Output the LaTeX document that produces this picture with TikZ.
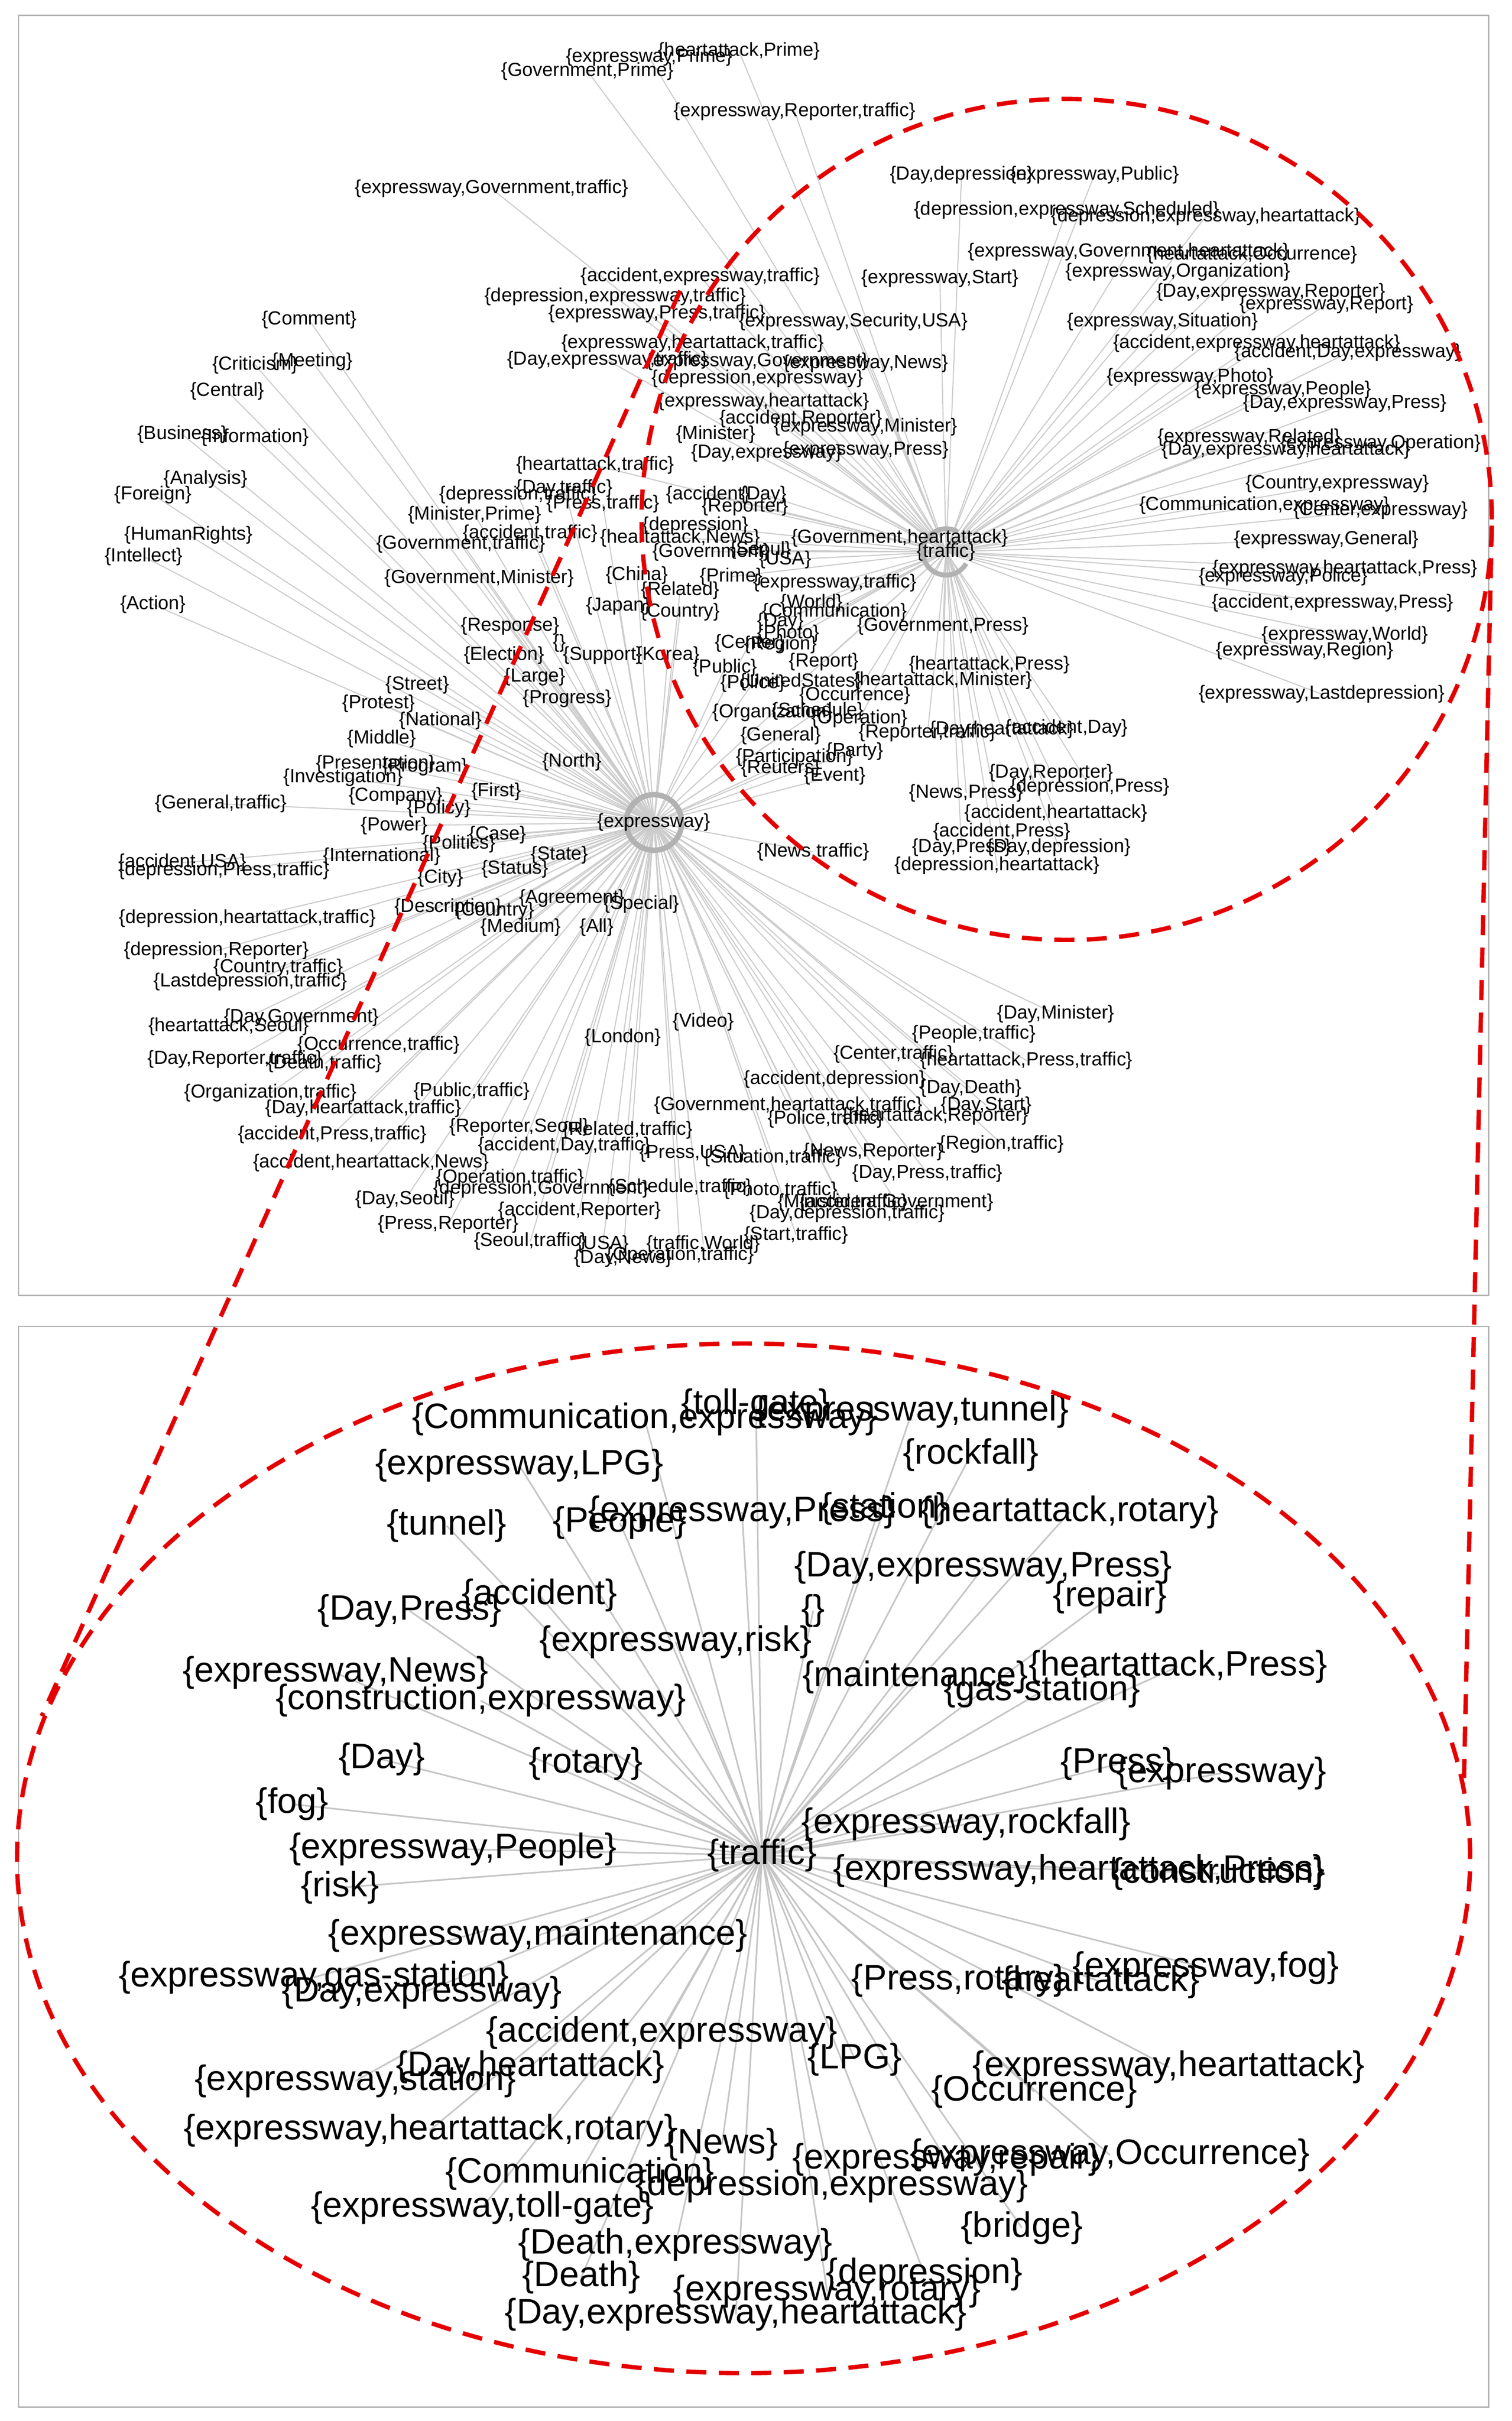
\documentclass[tikz,border=0pt]{standalone}
\usepackage{fontspec}
\setmainfont{Liberation Sans}
\begin{document}
\begin{tikzpicture}[x=0.1cm,y=-0.1cm,
  toplbl/.style={inner sep=0pt,font=\fontsize{35}{37}\selectfont},
  botlbl/.style={inner sep=0pt,font=\fontsize{65}{68}\selectfont},
  edgeline/.style={draw=gray!40,line width=2pt},
  bedge/.style={draw=gray!45,line width=3pt},
  panel/.style={draw=gray!60,line width=2.5pt},
  reddash/.style={draw=red!90!black,line width=8pt,dash pattern=on 1.3cm off 0.8cm}]
\useasboundingbox (0,0) rectangle (978,1566);
\draw[panel] (12,10) rectangle (963,838);
\draw[panel] (12,858) rectangle (963,1557);
\def\toplist{
380/46/{Government,Prime},478/33/{heartattack,Prime},420/37/{expressway,Prime},
514/72/{expressway,Reporter,traffic},318/122/{expressway,Government,traffic},
453/179/{accident,expressway,traffic},398/192/{depression,expressway,traffic},
425/203/{expressway,Press,traffic},448/222/{expressway,heartattack,traffic},
393/233/{Day,expressway,traffic},490/234/{expressway,Government},560/235/{expressway,News},
490/245/{depression,expressway},494/260/{expressway,heartattack},518/271/{accident,Reporter},
560/276/{expressway,Minister},463/281/{Minister},496/293/{Day,expressway},560/291/{expressway,Press},
200/207/{Comment},165/236/{Criticism},202/234/{Meeting},147/253/{Central},118/281/{Business},
165/283/{Information},133/310/{Analysis},99/320/{Foreign},122/346/{HumanRights},93/360/{Intellect},
99/391/{Action},385/301/{heartattack,traffic},365/316/{Day,traffic},335/320/{depression,traffic},
390/326/{Press,traffic},307/333/{Minister,Prime},343/345/{accident,traffic},298/352/{Government,traffic},
310/374/{Government,Minister},458/320/{accident},482/328/{Reporter},494/320/{Day},450/340/{depression},
440/348/{heartattack,News},460/357/{Government},582/348/{Government,heartattack},492/356/{Seoul},
508/362/{USA},412/372/{China},473/373/{Prime},540/377/{expressway,traffic},440/382/{Related},
400/392/{Japan},440/396/{Country},525/390/{World},540/396/{Communication},330/405/{Response},
326/424/{Election},362/416/{},390/424/{Support},432/424/{Korea},510/410/{Photo},505/402/{Day},
610/405/{Government,Press},485/416/{Center},505/417/{Region},533/428/{Report},469/432/{Public},
518/441/{UnitedStates},640/430/{heartattack,Press},487/442/{Police},610/440/{heartattack,Minister},
346/438/{Large},553/450/{Occurrence},367/452/{Progress},270/443/{Street},245/455/{Protest},
285/466/{National},247/478/{Middle},500/461/{Organization},529/460/{Schedule},556/465/{Operation},
600/474/{Reporter,traffic},648/472/{Day,heartattack},690/471/{accident,Day},505/476/{General},
243/494/{Presentation},275/496/{Program},370/493/{North},222/503/{Investigation},514/490/{Participation},
553/486/{Party},505/497/{Reuters},540/502/{Event},256/515/{Company},321/512/{First},680/500/{Day,Reporter},
284/523/{Policy},625/513/{News,Press},705/509/{depression,Press},143/520/{General,traffic},255/534/{Power},
322/540/{Case},683/526/{accident,heartattack},297/546/{Politics},247/554/{International},362/553/{State},
648/538/{accident,Press},118/558/{accident,USA},145/563/{depression,Press,traffic},333/562/{Status},
285/568/{City},622/548/{Day,Press},685/548/{Day,depression},526/551/{News,traffic},
645/560/{depression,heartattack},370/581/{Agreement},415/585/{Special},290/587/{Description},
320/589/{Country},160/594/{depression,heartattack,traffic},337/600/{Medium},386/600/{All},
140/615/{depression,Reporter},180/626/{Country,traffic},162/635/{Lastdepression,traffic},
195/658/{Day,Government},148/664/{heartattack,Seoul},245/676/{Occurrence,traffic},
152/685/{Day,Reporter,traffic},210/688/{Death,traffic},403/671/{London},455/661/{Video},
683/656/{Day,Minister},630/669/{People,traffic},578/682/{Center,traffic},664/686/{heartattack,Press,traffic},
540/698/{accident,depression},628/704/{Day,Death},175/707/{Organization,traffic},305/706/{Public,traffic},
235/717/{Day,heartattack,traffic},510/715/{Government,heartattack,traffic},638/715/{Day,Start},
336/729/{Reporter,Seoul},406/731/{Related,traffic},534/724/{Police,traffic},605/722/{heartattack,Reporter},
215/734/{accident,Press,traffic},365/741/{accident,Day,traffic},240/752/{accident,heartattack,News},
448/746/{Press,USA},500/749/{Situation,traffic},565/745/{News,Reporter},648/740/{Region,traffic},
330/762/{Operation,traffic},600/759/{Day,Press,traffic},350/769/{depression,Government},
440/768/{Schedule,traffic},505/770/{Photo,traffic},545/778/{Minister,traffic},580/778/{accident,Government},
262/776/{Day,Seoul},375/783/{accident,Reporter},548/785/{Day,depression,traffic},290/792/{Press,Reporter},
343/803/{Seoul,traffic},390/805/{USA},455/805/{traffic,World},515/799/{Start,traffic},403/814/{Day,News},
440/812/{Operation,traffic},
622/113/{Day,depression},708/113/{expressway,Public},690/136/{depression,expressway,Scheduled},
780/140/{depression,expressway,heartattack},730/163/{expressway,Government,heartattack},
810/165/{heartattack,Occurrence},608/180/{expressway,Start},762/176/{expressway,Organization},
822/189/{Day,expressway,Reporter},858/197/{expressway,Report},552/208/{expressway,Security,USA},
752/208/{expressway,Situation},813/222/{accident,expressway,heartattack},872/228/{accident,Day,expressway},
770/244/{expressway,Photo},830/252/{expressway,People},870/261/{Day,expressway,Press},
808/283/{expressway,Related},832/291/{Day,expressway,heartattack},893/287/{expressway,Operation},
865/313/{Country,expressway},818/327/{Communication,expressway},893/330/{Center,expressway},
858/349/{expressway,General},870/368/{expressway,heartattack,Press},830/373/{expressway,Police},
862/390/{accident,expressway,Press},870/411/{expressway,World},844/421/{expressway,Region},
855/449/{expressway,Lastdepression}}
\def\botlist{
417/918/{Communication,expressway},489/909/{toll-gate},590/913/{expressway,tunnel},628/941/{rockfall},
336/948/{expressway,LPG},480/978/{expressway,Press},572/976/{station},692/978/{heartattack,rotary},
289/987/{tunnel},401/985/{People},636/1014/{Day,expressway,Press},349/1032/{accident},718/1033/{repair},
265/1042/{Day,Press},526/1042/{},437/1062/{expressway,risk},592/1085/{maintenance},762/1078/{heartattack,Press},
217/1082/{expressway,News},311/1100/{construction,expressway},674/1094/{gas-station},247/1138/{Day},
379/1141/{rotary},723/1141/{Press},790/1147/{expressway},189/1167/{fog},625/1180/{expressway,rockfall},
293/1196/{expressway,People},698/1210/{expressway,heartattack,Press},788/1212/{construction},220/1221/{risk},
348/1252/{expressway,maintenance},203/1279/{expressway,gas-station},273/1289/{Day,expressway},
780/1273/{expressway,fog},620/1281/{Press,rotary},712/1282/{heartattack},428/1315/{accident,expressway},
230/1346/{expressway,station},343/1337/{Day,heartattack},553/1332/{LPG},756/1337/{expressway,heartattack},
669/1353/{Occurrence},278/1378/{expressway,heartattack,rotary},467/1387/{News},612/1397/{expressway,repair},
718/1394/{expressway,Occurrence},375/1406/{Communication},538/1414/{depression,expressway},
312/1428/{expressway,toll-gate},661/1441/{bridge},437/1452/{Death,expressway},376/1473/{Death},
598/1471/{depression},535/1482/{expressway,rotary},476/1497/{Day,expressway,heartattack}}
% hub positions
\coordinate (hexp) at (423,532);
\coordinate (htra) at (612,357);
\coordinate (btra) at (493,1200);
% edges (drawn first, under text)
\foreach \x/\y/\t [count=\i] in \toplist {
  \coordinate (t\i) at (\x,\y);
  \pgfmathparse{veclen(\x-423,\y-532)<veclen(\x-612,\y-357)?1:0}
  \ifnum\pgfmathresult=1 \draw[edgeline] (hexp) -- (t\i);
  \else \draw[edgeline] (htra) -- (t\i); \fi
}
\foreach \x/\y/\t [count=\i] in \botlist {
  \coordinate (b\i) at (\x,\y);
  \draw[bedge] (btra) -- (b\i);
}
\draw[gray!60,line width=10pt] (hexp) circle (1.8cm);
\draw[gray!60,line width=9pt] ([shift={(60:1.5cm)}]htra) arc (60:330:1.5cm);
% labels
\node[toplbl] (lhexp) at (hexp) {\{expressway\}};
\node[toplbl] (lhtra) at (htra) {\{traffic\}};
\node[botlbl] (lbtra) at (btra) {\{traffic\}};
\foreach \x/\y/\t [count=\i] in \toplist { \node[toplbl] (lt\i) at (t\i) {\{\t\}}; }
\foreach \x/\y/\t [count=\i] in \botlist { \node[botlbl] (lb\i) at (b\i) {\{\t\}}; }
% red dashed zoom indication
\draw[reddash] (690,336) ellipse (27.5cm and 27.2cm);
\draw[reddash] (481,1202) ellipse (47cm and 33.3cm);
\coordinate (za) at (440,188);
\coordinate (zb) at (27,1110);
\coordinate (zc) at (965,340);
\coordinate (zd) at (947,1150);
\draw[reddash] (za) -- (zb);
\draw[reddash] (zc) -- (zd);
\end{tikzpicture}
\end{document}
